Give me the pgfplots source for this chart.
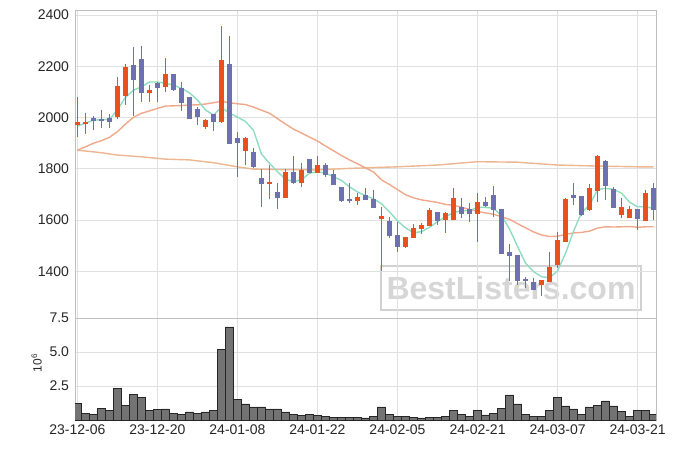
\documentclass[border=0pt]{standalone}
\usepackage{pgfplots}
\pgfplotsset{compat=1.18}
\usepackage{pgfplotstable}
\usepackage{fontspec}
\setmainfont{Liberation Sans}
\definecolor{upc}{HTML}{E8501C}
\definecolor{dnc}{HTML}{6D71B3}
\definecolor{mafive}{HTML}{8FDCC0}
\definecolor{matwenty}{HTML}{F0A88A}
\definecolor{malong}{HTML}{ECB690}
\definecolor{volc}{HTML}{737373}
\definecolor{gridc}{HTML}{E0E0E0}

\pgfplotstableread{
i O H L C
0 1972 2079 1923 1983
1 1978 2017 1935 1983
5 2003 2157 1993 2123
6 2085 2209 2049 2196
9 2097 2127 2060 2107
11 2120 2231 2101 2170
16 1964 1993 1957 1990
18 1984 2357 1978 2224
21 1871 1925 1814 1919
24 1742 1815 1681 1749
26 1689 1798 1689 1788
28 1746 1822 1731 1796
30 1787 1850 1783 1815
35 1676 1705 1659 1689
38 1604 1650 1402 1616
41 1496 1535 1490 1533
42 1532 1584 1529 1568
43 1566 1590 1546 1580
44 1578 1646 1578 1639
46 1601 1633 1549 1627
47 1601 1724 1601 1685
50 1627 1707 1516 1668
58 1350 1363 1304 1363
59 1360 1477 1360 1414
60 1425 1555 1415 1520
61 1516 1685 1516 1682
64 1640 1741 1637 1724
65 1717 1854 1670 1847
68 1623 1685 1607 1650
69 1609 1655 1607 1642
71 1600 1717 1600 1705
}\upT

\pgfplotstableread{
i O H L C
2 1998 2007 1951 1990
3 1993 2030 1960 1991
4 1997 2013 1958 1985
7 2205 2274 2007 2147
8 2227 2279 2060 2097
10 2133 2140 2062 2117
12 2170 2170 2104 2111
13 2115 2139 2024 2058
14 2079 2081 1993 1996
15 2033 2040 1970 2003
17 2013 2014 1948 1984
19 2209 2318 1900 1900
20 1919 1945 1769 1902
22 1864 1882 1804 1808
23 1763 1798 1650 1744
25 1710 1746 1642 1689
27 1788 1850 1741 1746
29 1837 1838 1784 1785
31 1815 1822 1769 1776
32 1780 1795 1737 1740
33 1728 1730 1672 1676
34 1680 1746 1668 1675
36 1698 1726 1681 1681
37 1682 1718 1649 1649
39 1597 1611 1529 1538
40 1542 1591 1477 1496
45 1629 1633 1581 1598
48 1650 1685 1607 1627
49 1643 1666 1594 1627
51 1671 1692 1652 1655
52 1698 1733 1613 1642
53 1640 1640 1471 1471
54 1473 1506 1363 1461
55 1464 1464 1347 1364
56 1368 1379 1334 1363
57 1357 1373 1328 1330
62 1698 1746 1659 1688
63 1691 1694 1616 1623
66 1830 1834 1678 1734
67 1720 1730 1648 1650
70 1643 1643 1562 1607
72 1724 1746 1600 1642
}\dnT

\pgfplotstableread{
i v
0 1967
1 1978
2 1990
3 1992
4 1993
5 2030
6 2079
7 2107
8 2120
9 2139
10 2139
11 2134
12 2127
13 2114
14 2097
15 2069
16 2030
17 2010
18 2040
19 2018
20 2002
21 1985
22 1951
23 1858
24 1822
25 1789
26 1760
27 1750
28 1757
29 1783
30 1789
31 1783
32 1769
33 1755
34 1730
35 1710
36 1695
37 1683
38 1664
39 1632
40 1597
41 1570
42 1551
43 1555
44 1572
45 1594
46 1613
47 1629
48 1637
49 1637
50 1650
51 1650
52 1646
53 1617
54 1565
55 1497
56 1432
57 1399
58 1379
59 1375
60 1402
61 1471
62 1557
63 1630
64 1659
65 1719
66 1724
67 1720
68 1705
69 1670
70 1652
71 1652
72 1646
}\maFive

\pgfplotstableread{
i v
0 1873
1 1886
2 1900
3 1910
4 1923
5 1945
6 1975
7 2001
8 2017
9 2026
10 2036
11 2045
12 2046
13 2047
14 2049
15 2050
16 2053
17 2058
18 2064
19 2058
20 2054
21 2051
22 2041
23 2029
24 2017
25 1996
26 1975
27 1955
28 1940
29 1924
30 1909
31 1889
32 1871
33 1852
34 1835
35 1820
36 1804
37 1788
38 1757
39 1739
40 1719
41 1699
42 1687
43 1679
44 1674
45 1669
46 1661
47 1658
48 1650
49 1642
50 1634
51 1628
52 1623
53 1613
54 1603
55 1586
56 1570
57 1554
58 1542
59 1536
60 1537
61 1544
62 1550
63 1552
64 1557
65 1569
66 1574
67 1573
68 1574
69 1575
70 1572
71 1574
72 1574
}\maTwenty

\pgfplotstableread{
i v
0 1873
3 1863
5 1854
8 1847
11 1838
14 1835
17 1824
20 1808
22 1799
26 1797
30 1796
34 1802
40 1808
45 1815
50 1828
55 1826
60 1815
65 1811
70 1808
72 1808
}\maLong

\pgfplotstableread{
i v
0 1.25
1 0.51
2 0.44
3 0.88
4 0.68
5 2.35
6 1.10
7 1.91
8 1.69
9 0.68
10 0.76
11 0.81
12 0.51
13 0.44
14 0.59
15 0.51
16 0.59
17 0.73
18 5.17
19 6.84
20 1.49
21 1.18
22 0.96
23 0.96
24 0.81
25 0.81
26 0.59
27 0.39
28 0.32
29 0.39
30 0.32
31 0.24
32 0.22
33 0.22
34 0.22
35 0.20
36 0.15
37 0.29
38 0.96
39 0.39
40 0.29
41 0.29
42 0.22
43 0.15
44 0.22
45 0.22
46 0.29
47 0.73
48 0.44
49 0.29
50 0.73
51 0.37
52 0.51
53 0.88
54 1.84
55 1.18
56 0.44
57 0.29
58 0.29
59 0.68
60 1.69
61 1.03
62 0.81
63 0.44
64 0.96
65 1.10
66 1.40
67 1.03
68 0.66
69 0.29
70 0.73
71 0.73
72 0.44
}\volT

\pgfplotsset{
  common/.style={
    scale only axis, anchor=south west,
    width=581pt,
    xmin=-0.3, xmax=72.3,
    xtick={0,10,...,70},
    grid=major,
    grid style={color=gridc, line width=0.8pt},
    axis line style={color=black!25},
    major tick length=0pt,
    tick label style={font=\fontsize{14}{14}\selectfont, text=black!85},
    y tick label style={xshift=-2.5pt},
    x tick label style={yshift=-1.5pt},
    /pgf/number format/assume math mode=true,
  },
  wick/.style={forget plot, draw=none, mark=none,
    error bars/.cd, y dir=both, y explicit, error mark=none,
    error bar style={draw=#1, line width=1.3pt}},
  body/.style={forget plot, draw=none, mark=none,
    error bars/.cd, y dir=both, y explicit, error mark=none,
    error bar style={draw=#1, line width=5.4pt}},
}

\begin{document}
\begin{tikzpicture}
\useasboundingbox (0,0) rectangle (675pt,448pt);

% watermark
\node[draw=black!18, line width=2.5pt, text=black!16,
  font=\bfseries\fontsize{32}{32}\selectfont,
  minimum width=260pt, minimum height=44pt, inner sep=0pt]
  at (511pt,160pt) {BestListers.com};

\begin{axis}[common,
  at={(75pt,130pt)}, height=308pt,
  ymin=1218, ymax=2420,
  ytick={1400,1600,...,2400},
  xticklabels={},
  y tick label style={/pgf/number format/1000 sep={}},
]
\addplot[malong, line width=1.4pt, forget plot] table[x=i,y=v]{\maLong};
\addplot[matwenty, line width=1.4pt, forget plot] table[x=i,y=v]{\maTwenty};
\addplot[mafive, line width=1.4pt, forget plot] table[x=i,y=v]{\maFive};

\addplot[wick=upc] table[x=i, y expr={(\thisrow{H}+\thisrow{L})/2}, y error expr={(\thisrow{H}-\thisrow{L})/2}]{\upT};
\addplot[wick=dnc] table[x=i, y expr={(\thisrow{H}+\thisrow{L})/2}, y error expr={(\thisrow{H}-\thisrow{L})/2}]{\dnT};
\addplot[body=upc] table[x=i, y expr={(\thisrow{O}+\thisrow{C})/2}, y error expr={abs(\thisrow{C}-\thisrow{O})/2+1.5}]{\upT};
\addplot[body=dnc] table[x=i, y expr={(\thisrow{O}+\thisrow{C})/2}, y error expr={abs(\thisrow{C}-\thisrow{O})/2+1.5}]{\dnT};
\end{axis}

\begin{axis}[common,
  at={(75pt,28pt)}, height=102pt,
  ymin=0, ymax=7.5,
  ytick={2.5,5,7.5},
  yticklabels={2.5,5.0,7.5},
  xticklabels={23-12-06,23-12-20,24-01-08,24-01-22,24-02-05,24-02-21,24-03-07,24-03-21},
  ylabel={10\textsuperscript{6}},
  ylabel style={at={(axis description cs:-0.066,0.56)}, anchor=center, font=\fontsize{12}{12}\selectfont, text=black!85},
]
\addplot[ybar, bar width=1, fill=volc, draw=black!85, line width=0.6pt] table[x=i,y=v]{\volT};
\end{axis}
\end{tikzpicture}
\end{document}
